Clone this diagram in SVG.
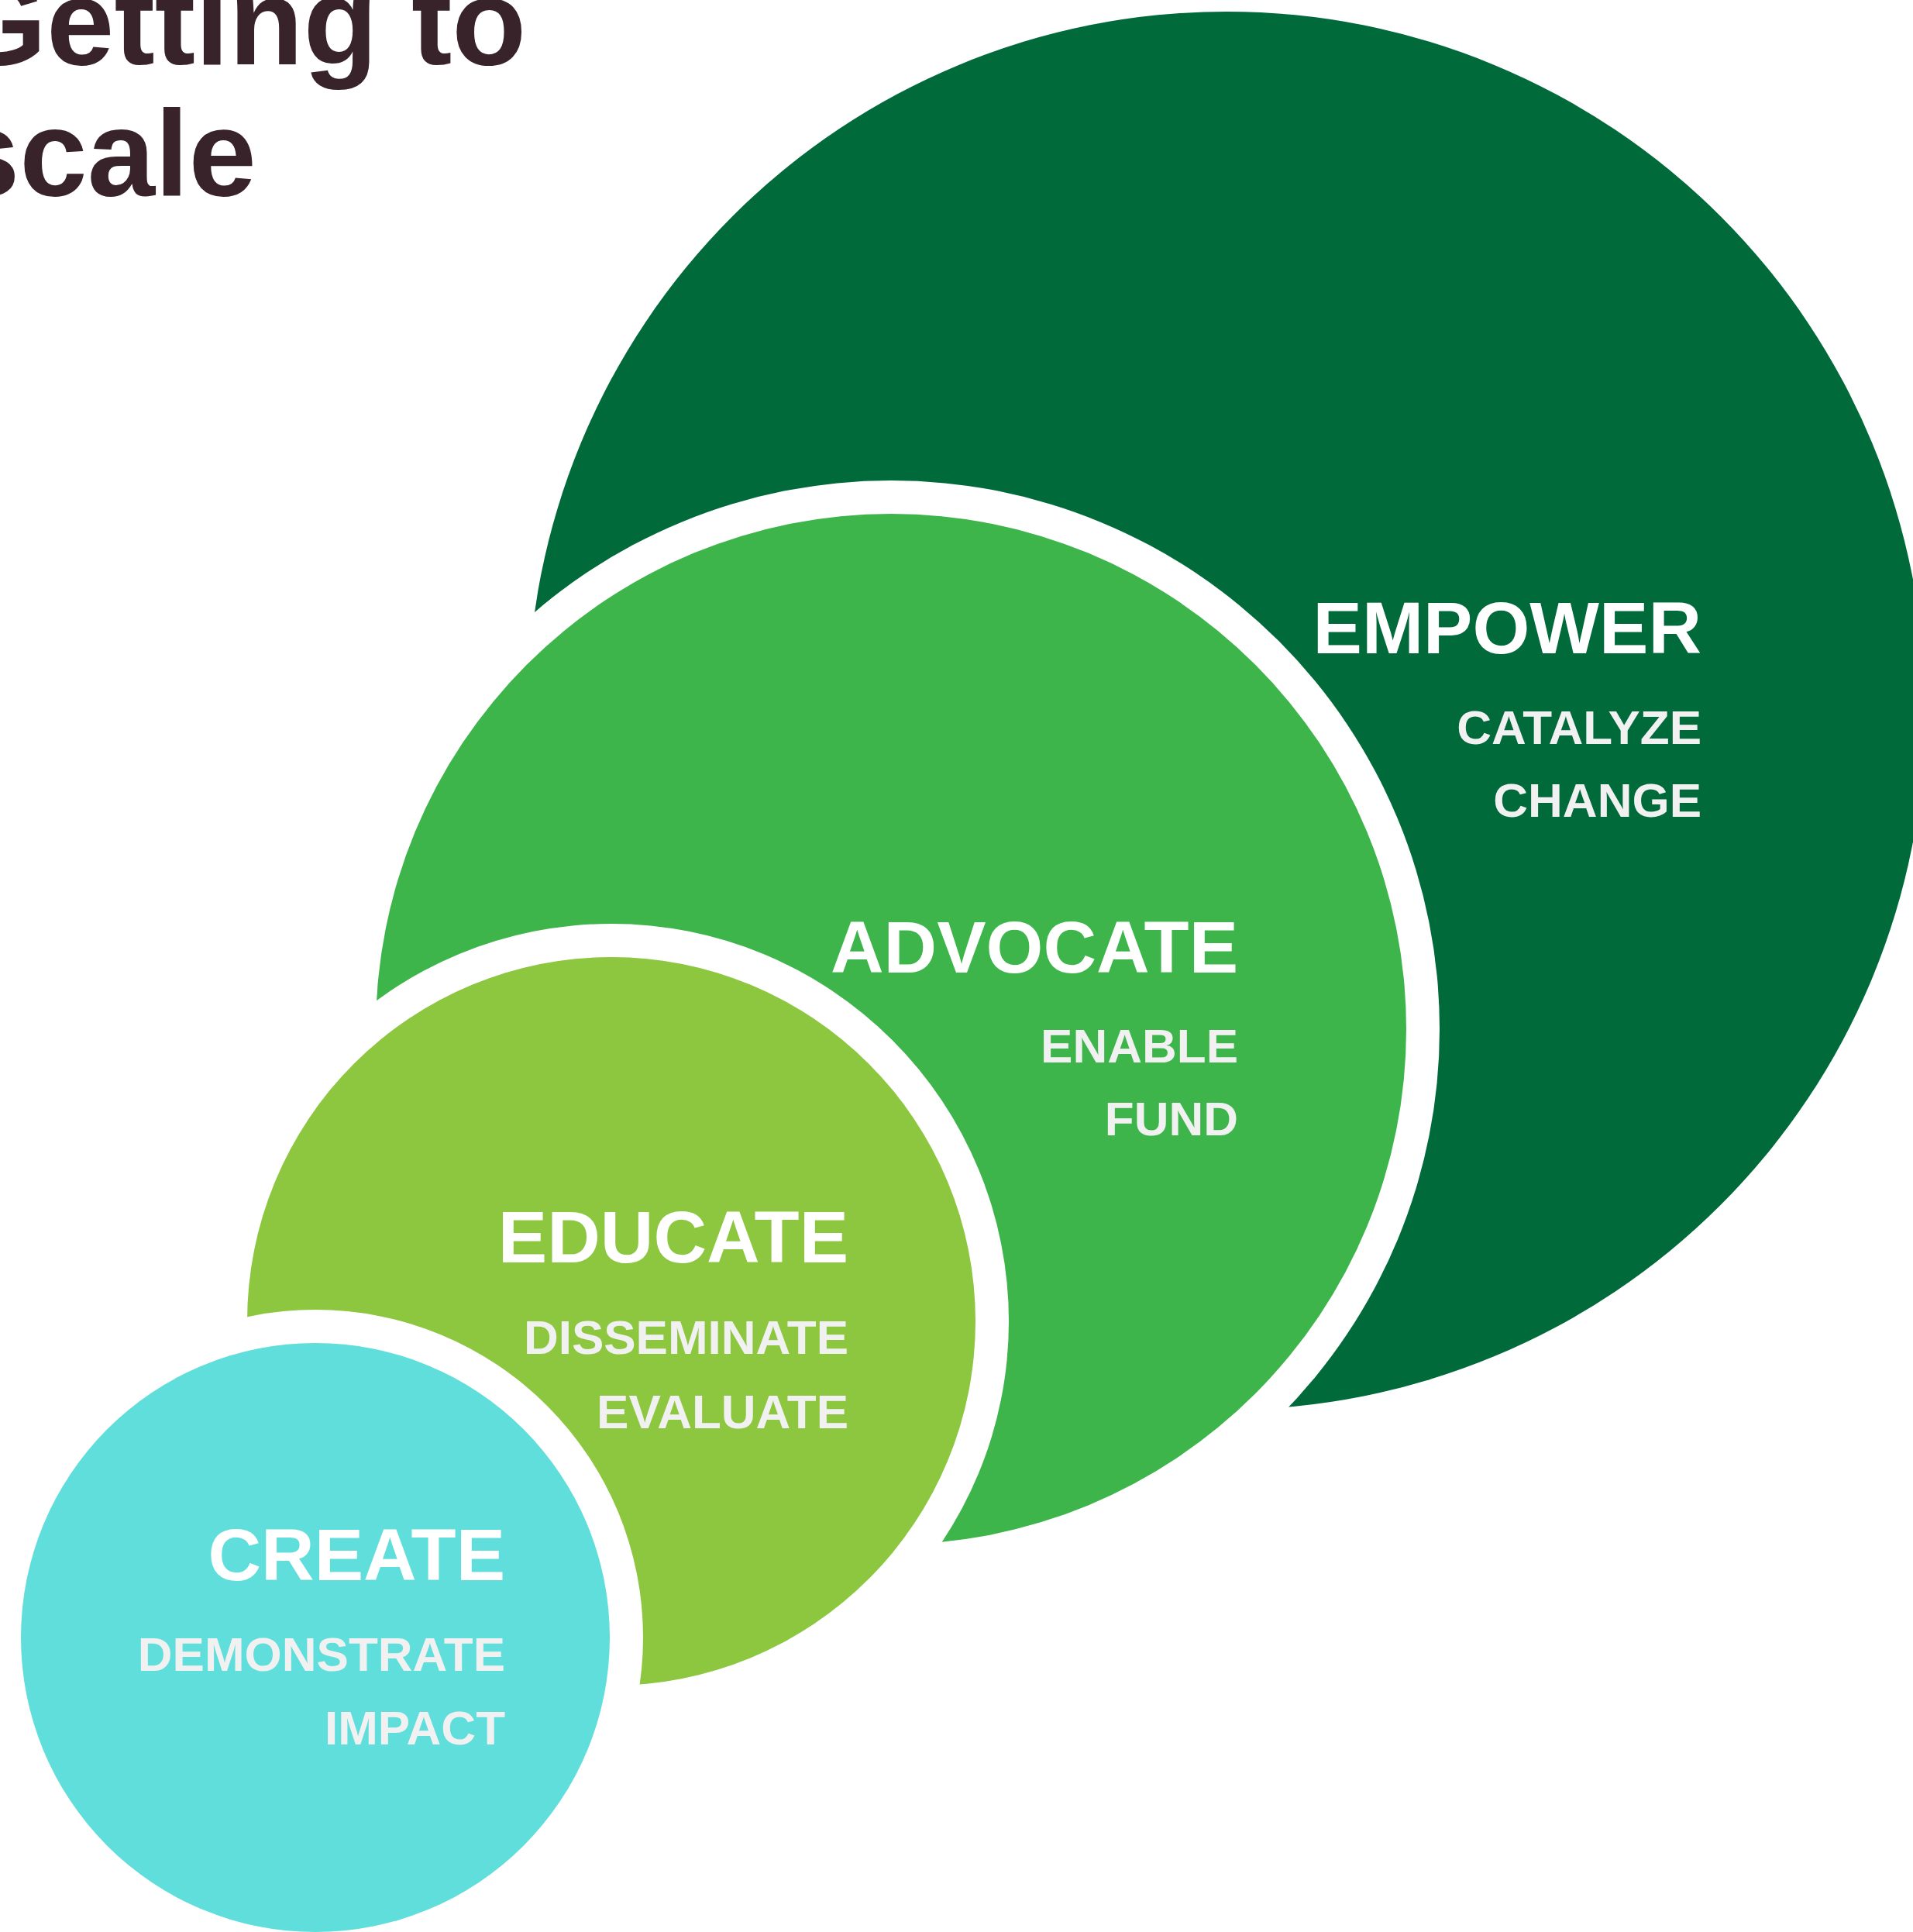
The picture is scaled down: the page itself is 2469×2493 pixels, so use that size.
<svg xmlns="http://www.w3.org/2000/svg" width="2469" height="2493" viewBox="0 0 2469 2493">
<style>
.title{font-family:"Liberation Sans",Arial,sans-serif;font-weight:bold;font-size:157px;fill:#38232a}
.head{font-family:"Liberation Sans",Arial,sans-serif;font-weight:bold;font-size:95px;fill:#ffffff;text-anchor:end}
.sub{font-family:"Liberation Sans",Arial,sans-serif;font-weight:bold;font-size:62px;fill:#f1f1f1;text-anchor:end}
.ring{fill:#ffffff}
</style>
<rect width="2469" height="2493" fill="#ffffff"/>
<g id="title">
<text class="title" x="-62" y="83">Getting to</text>
<text class="title" x="-62" y="252">scale</text>
</g>
<g id="empower">
<circle cx="1583" cy="917" r="902" fill="#006a3a"/>
</g>
<g id="advocate">
<circle class="ring" cx="1150" cy="1328" r="708"/>
<circle cx="1150" cy="1328" r="665" fill="#3db54a"/>
</g>
<g id="educate">
<circle class="ring" cx="789" cy="1705" r="513"/>
<circle cx="789" cy="1705" r="470" fill="#8dc63f"/>
</g>
<g id="create">
<circle class="ring" cx="407" cy="2113" r="423"/>
<circle cx="407" cy="2113" r="380" fill="#60dedb"/>
</g>
<g id="empower-label">
<text class="head" x="2196" y="843">EMPOWER</text>
<text class="sub" x="2196" y="960">CATALYZE</text>
<text class="sub" x="2196" y="1054">CHANGE</text>
</g>
<g id="advocate-label">
<text class="head" x="1598" y="1255">ADVOCATE</text>
<text class="sub" x="1598" y="1371">ENABLE</text>
<text class="sub" x="1598" y="1465">FUND</text>
</g>
<g id="educate-label">
<text class="head" x="1095" y="1629">EDUCATE</text>
<text class="sub" x="1095" y="1747">DISSEMINATE</text>
<text class="sub" x="1095" y="1843">EVALUATE</text>
</g>
<g id="create-label">
<text class="head" x="652" y="2039">CREATE</text>
<text class="sub" x="652" y="2156">DEMONSTRATE</text>
<text class="sub" x="652" y="2251">IMPACT</text>
</g>
</svg>
